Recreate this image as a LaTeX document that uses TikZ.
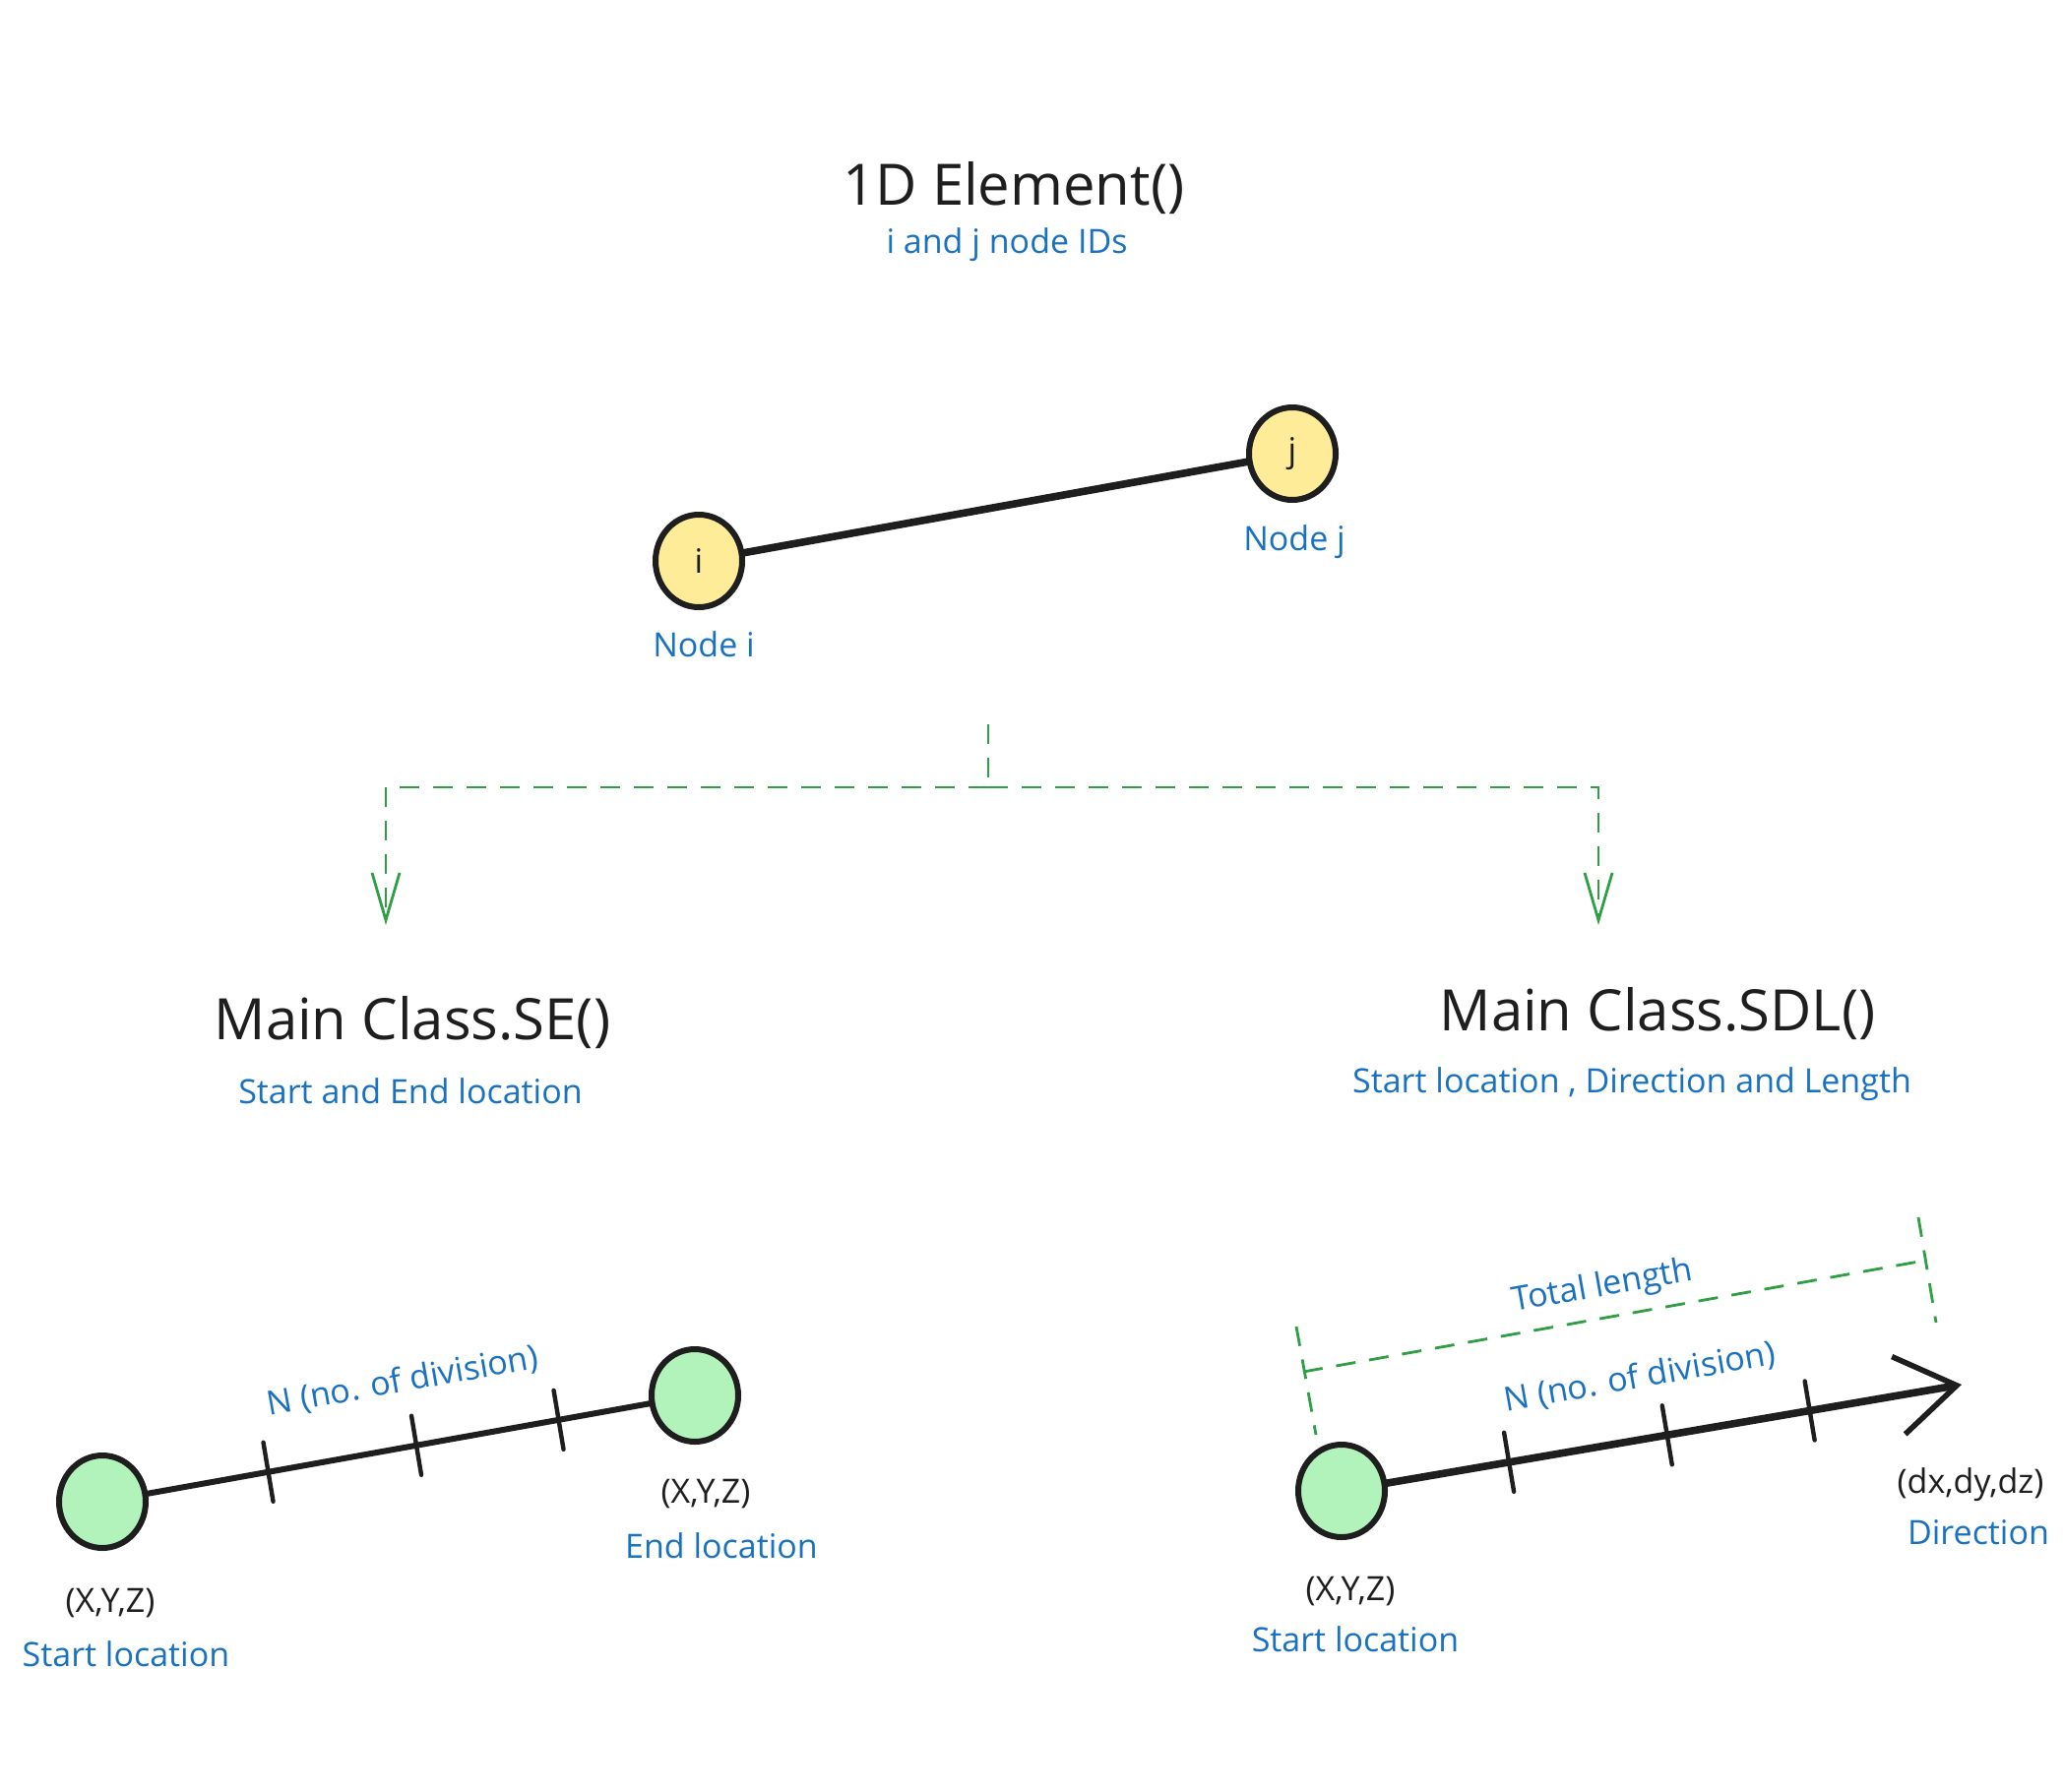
\documentclass[tikz,border=0pt]{standalone}
\usepackage{fontspec}
\setmainfont{Open Sans}
\usetikzlibrary{arrows.meta,shapes.geometric,calc}
\definecolor{ink}{HTML}{1E1E1E}
\definecolor{exblue}{HTML}{1971C2}
\definecolor{exgreenline}{HTML}{2F9E44}
\definecolor{exyellow}{HTML}{FFEC99}
\definecolor{exgreen}{HTML}{B2F2BB}
\begin{document}
\begin{tikzpicture}[x=0.5pt,y=-0.5pt,
  titletxt/.style={font=\fontsize{29}{34}\selectfont, text=ink, inner sep=0pt},
  bluelbl/.style={font=\fontsize{17}{20}\selectfont, text=exblue, inner sep=0pt},
  blacklbl/.style={font=\fontsize{17}{20}\selectfont, text=ink, inner sep=0pt},
  ynode/.style={ellipse, draw=ink, line width=3pt, fill=exyellow, minimum width=44pt, minimum height=47pt, inner sep=0pt, font=\fontsize{17}{20}\selectfont, text=ink},
  gnode/.style={ellipse, draw=ink, line width=3pt, fill=exgreen, minimum width=44pt, minimum height=47pt, inner sep=0pt},
  gdash/.style={draw=exgreenline, line width=1.4pt, dash pattern=on 10pt off 7pt},
  garrow/.style={-{Straight Barb[length=24pt,width=14pt,line width=1.4pt]}},
  tickline/.style={draw=ink, line width=2.2pt, line cap=round},
  beam/.style={draw=ink, line width=3.8pt, line cap=round},
  bar/.style={draw=ink, line width=3pt, line cap=round}
]
\useasboundingbox (0,0) rectangle (2097,1820);
\fill[white] (0,0) rectangle (2097,1820);

% --- top: 1D element
\node[titletxt] (title) at (1030,191) {1D Element()};
\node[bluelbl] (titlesub) at (1023,249) {i and j node IDs};
\node[ynode] (ni) at (710,570) {i};
\node[ynode] (nj) at (1313,461) {j};
\draw[beam] (ni) -- (nj);
\node[bluelbl] (nilbl) at (715,655) {Node i};
\node[bluelbl] (njlbl) at (1315,551) {Node j};

% --- green split connector
\coordinate (g0) at (1004,736);
\coordinate (gj) at (1004,800);
\coordinate (tL) at (392,940);
\coordinate (tR) at (1624,940);
\draw[gdash] (g0) -- (gj);
\draw[gdash,garrow] (gj) -| (tL);
\draw[gdash,garrow] (gj) -| (tR);

% --- class titles
\node[titletxt] (setitle) at (419,1039) {Main Class.SE()};
\node[bluelbl] (sesub) at (417,1109) {Start and End location};
\node[titletxt] (sdltitle) at (1684,1030) {Main Class.SDL()};
\node[bluelbl] (sdlsub) at (1658,1102) {Start location , Direction and Length};

% --- SE diagram
\node[gnode] (s1) at (104,1526) {};
\node[gnode] (e1) at (706,1418) {};
\draw[bar] (s1) -- (e1);
\coordinate (t1) at ($(s1)!0.28!(e1)$);
\coordinate (t2) at ($(s1)!0.53!(e1)$);
\coordinate (t3) at ($(s1)!0.77!(e1)$);
\foreach \t in {t1,t2,t3}
  \draw[tickline] ([shift={(-5,-30)}]\t) -- ([shift={(5,30)}]\t);
\node[bluelbl, rotate=10] (sen) at (409,1404) {N (no. of division)};
\node[blacklbl] (s1xyz) at (112,1629) {(X,Y,Z)};
\node[bluelbl] (s1lbl) at (128,1681) {Start location};
\node[blacklbl] (e1xyz) at (717,1518) {(X,Y,Z)};
\node[bluelbl] (e1lbl) at (733,1571) {End location};

% --- SDL diagram
\node[gnode] (s2) at (1363,1515) {};
\coordinate (a2) at (1993,1407);
\draw[beam, -{Straight Barb[length=30pt,width=40pt,line width=2.8pt]}] (s2) -- (a2);
\coordinate (u1) at ($(s2)!0.27!(a2)$);
\coordinate (u2) at ($(s2)!0.525!(a2)$);
\coordinate (u3) at ($(s2)!0.755!(a2)$);
\foreach \t in {u1,u2,u3}
  \draw[tickline] ([shift={(-5,-30)}]\t) -- ([shift={(5,30)}]\t);
\node[bluelbl, rotate=10] (sdln) at (1666,1400) {N (no. of division)};
% dimension
\coordinate (dl1) at (1317,1348);
\coordinate (dl2) at (1337,1458);
\coordinate (dr1) at (1949,1237);
\coordinate (dr2) at (1967,1344);
\coordinate (dm1) at (1324,1394);
\coordinate (dm2) at (1955,1281);
\draw[gdash] (dl1) -- (dl2);
\draw[gdash] (dr1) -- (dr2);
\draw[gdash] (dm1) -- (dm2);
\node[bluelbl, rotate=10] (totlen) at (1628,1308) {Total length};
\node[blacklbl] (dxyz) at (2002,1509) {(dx,dy,dz)};
\node[bluelbl] (dirlbl) at (2010,1557) {Direction};
\node[blacklbl] (s2xyz) at (1372,1617) {(X,Y,Z)};
\node[bluelbl] (s2lbl) at (1377,1666) {Start location};
\end{tikzpicture}
\end{document}
